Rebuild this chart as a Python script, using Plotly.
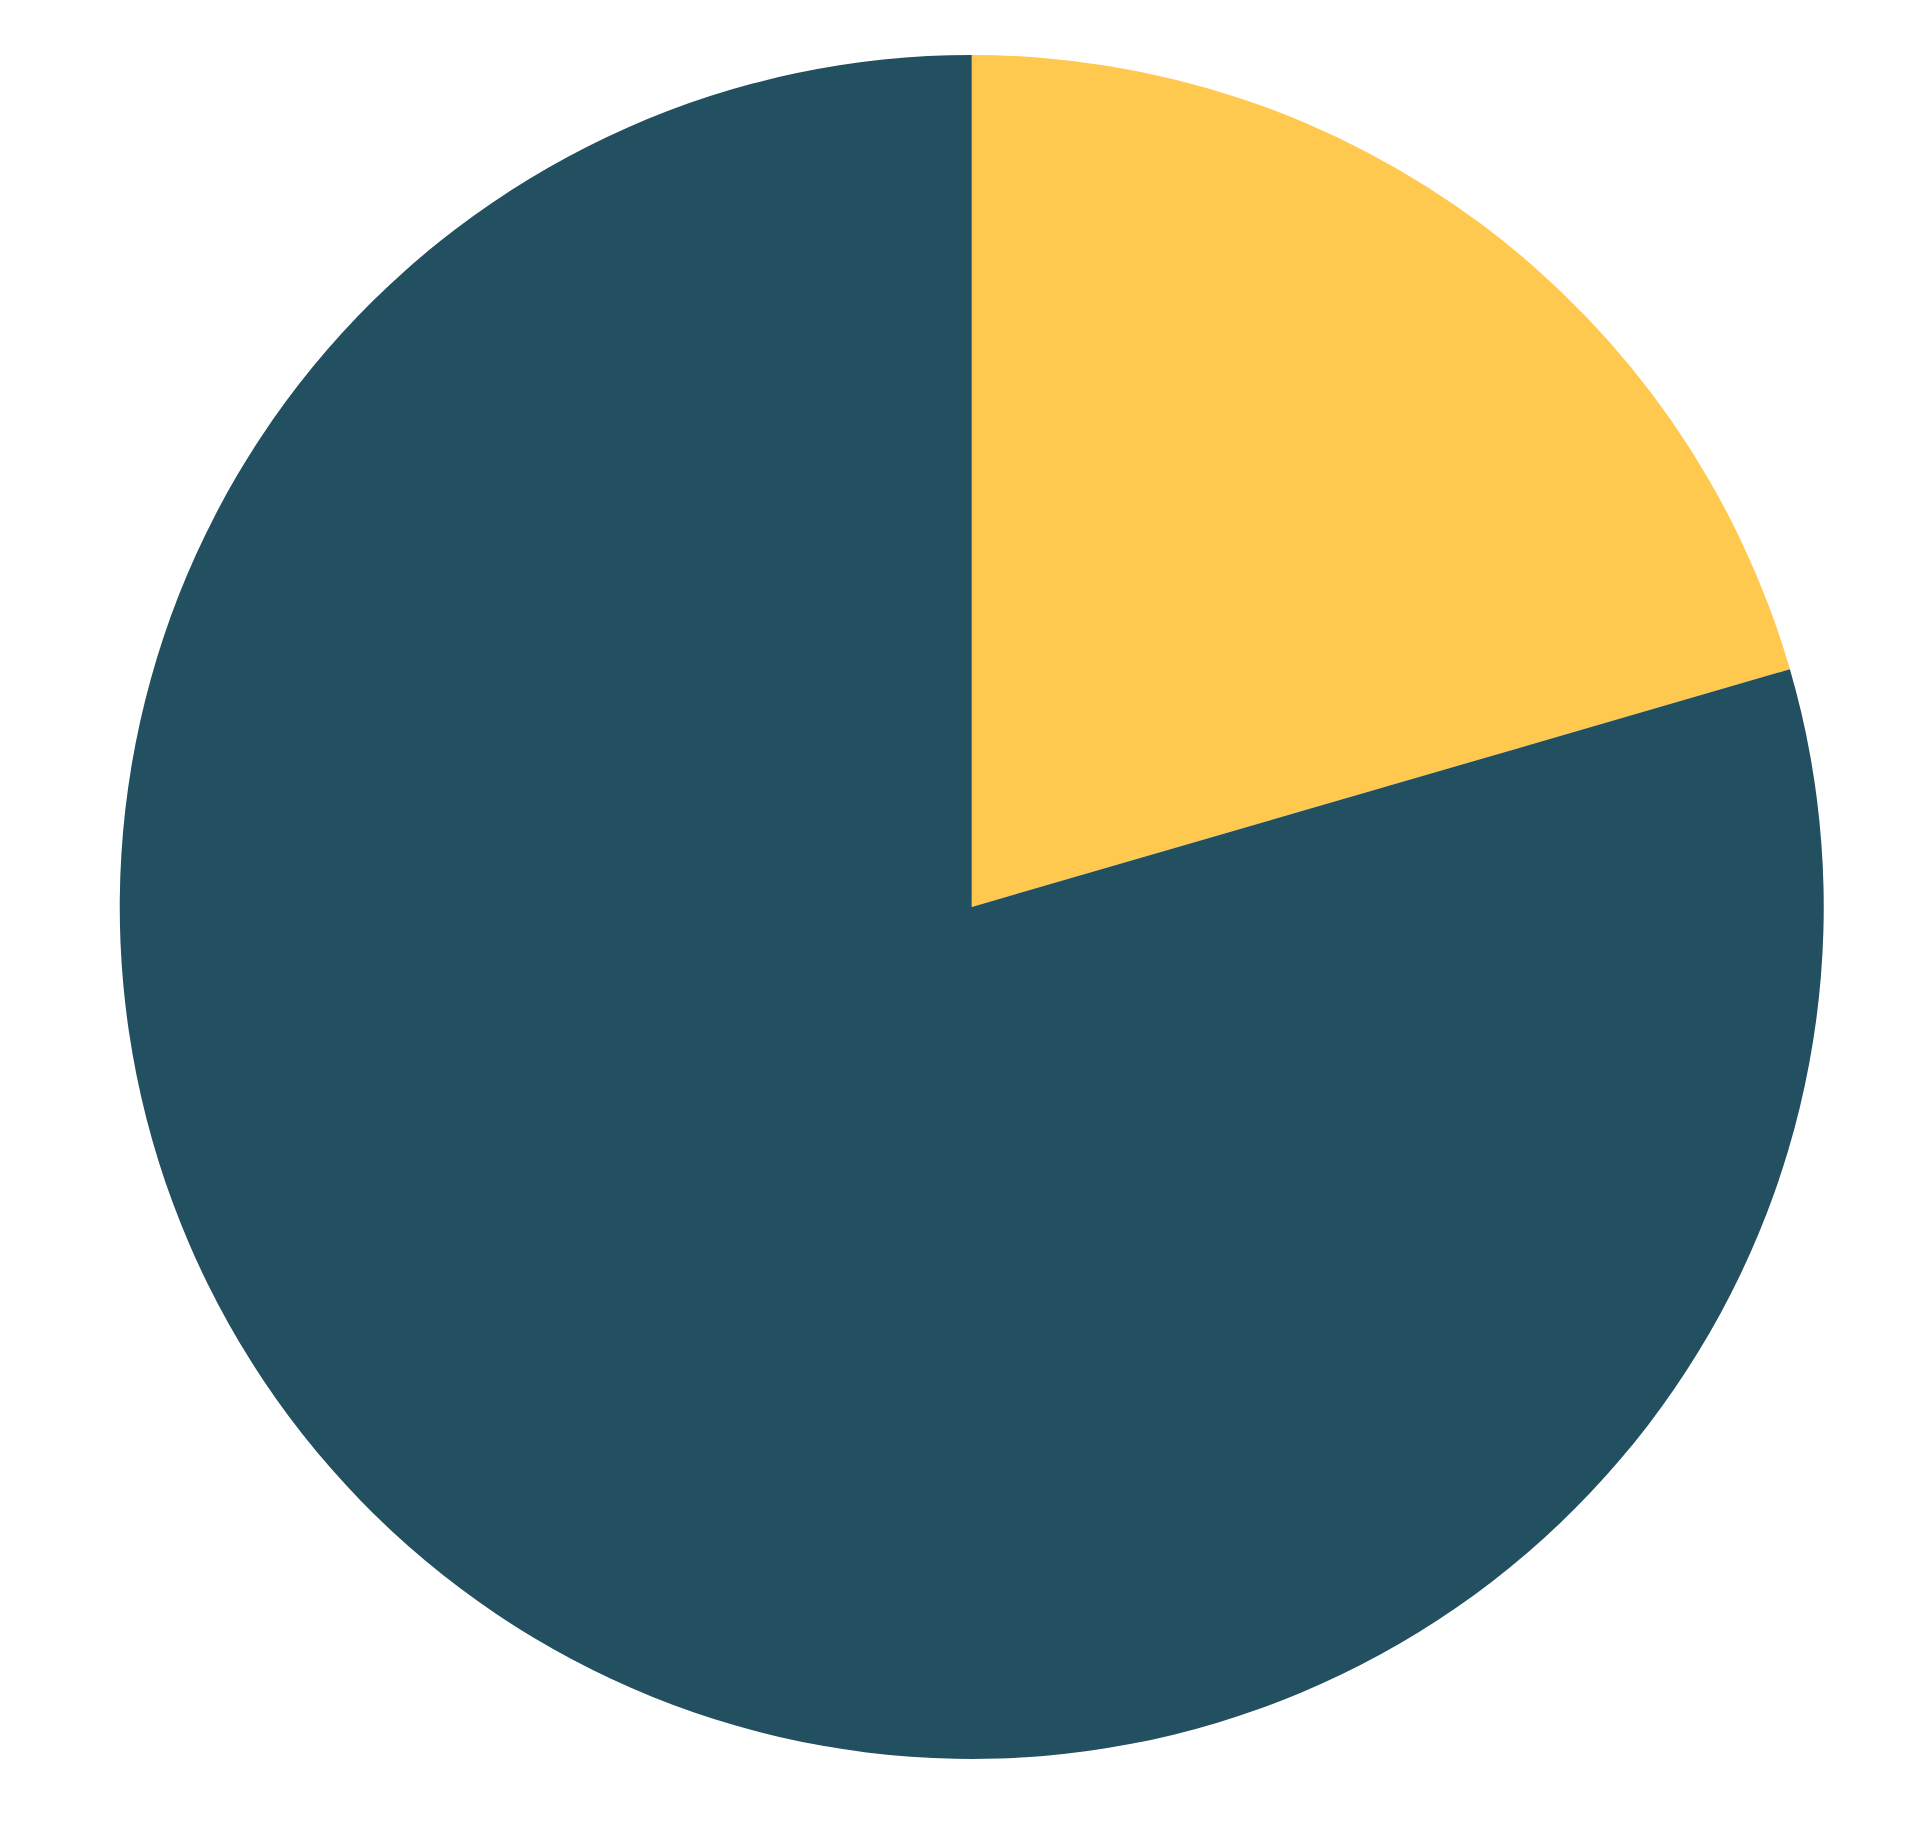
import plotly.graph_objects as go

# 两个扇区：数值按图片估读
labels = ['A', 'B']
values = [20.5, 79.5]
colors = ['#FFC84F', '#235061']

fig = go.Figure(go.Pie(
    labels=labels,
    values=values,
    sort=False,
    direction='clockwise',
    rotation=0,
    textinfo='none',
    hoverinfo='label+percent',
    marker=dict(colors=colors, line=dict(width=0)),
    domain=dict(x=[0.0582, 0.9457], y=[0.0437, 0.9744]),
))
fig.update_layout(
    width=1920, height=1831,
    margin=dict(l=0, r=0, t=0, b=0),
    showlegend=False,
    paper_bgcolor='white',
)
fig.write_html("out.html")
